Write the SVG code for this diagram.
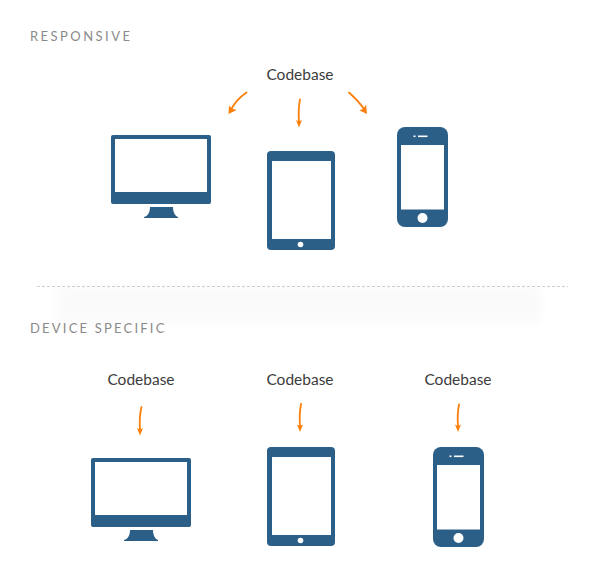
<svg xmlns="http://www.w3.org/2000/svg" width="600" height="580" viewBox="0 0 600 580">
<style>
.dev{fill:#2c5f88}
.scr{fill:#fff}
.head{font:13px Lato,"Liberation Sans",sans-serif;letter-spacing:2.45px;fill:#8a8a8a}
.tight{letter-spacing:2.2px}
.code{font:15.5px Lato,"Liberation Sans",sans-serif;fill:#3c3c3c;text-anchor:middle}
.arr{fill:none;stroke:#fb7f0a;stroke-width:1.8;stroke-linecap:round}
.tip{fill:#fb7f0a}
</style>
<defs>
<filter id="soft" x="-10%" y="-50%" width="120%" height="200%"><feGaussianBlur stdDeviation="6"/></filter>
<g id="monitor">
<rect class="dev" x="0" y="0" width="100" height="69" rx="2"/>
<rect class="scr" x="4" y="4" width="92" height="53"/>
<path class="dev" d="M39 72H62C62 77 64 81 67 82L67 83H33L33 82C37 81 39 77 39 72Z"/>
</g>
<g id="tablet">
<rect class="dev" x="0" y="0" width="68" height="99" rx="4"/>
<rect class="scr" x="5" y="10" width="59" height="78"/>
<circle class="scr" cx="33.500" cy="93.500" r="2.800"/>
</g>
<g id="phone">
<rect class="dev" x="0" y="0" width="51" height="100" rx="8"/>
<rect class="scr" x="4" y="18" width="43" height="64.500"/>
<circle class="scr" cx="25.500" cy="91" r="5"/>
<rect class="scr" x="21" y="8.500" width="9.500" height="1.600"/>
<rect class="scr" x="16.500" y="8.500" width="2" height="1.600"/>
</g>
</defs>
<rect width="600" height="580" fill="#fff"/>
<rect x="58" y="287" width="482" height="35" fill="#f9f9f9" filter="url(#soft)"/>
<line x1="37" y1="286.500" x2="568" y2="286.500" stroke="#cfcfcf" stroke-dasharray="3 2"/>
<text class="head" x="30" y="41">RESPONSIVE</text>
<text class="head tight" x="30" y="333">DEVICE SPECIFIC</text>
<g id="connectors">
<path class="arr" d="M246.500 92.500C240 97 234 103 231 110"/><path class="tip" d="M228.500 114L229 105.500L232 108.500L236.500 110Z"/>
<path class="arr" d="M300 99.500C298.500 107 298.500 115 299 122"/><path class="tip" d="M299 127.500L296 120L299 121.500L302 120Z"/>
<path class="arr" d="M349 92.500C355 98 360 103 364 109"/><path class="tip" d="M367 114L359.500 110.500L363.500 108.500L366 104.500Z"/>
<path class="arr" d="M141.500 407C139.500 415 139.500 423 140 430"/><path class="tip" d="M140 435.500L137 428L140 429.500L143 428Z"/>
<path class="arr" d="M301 404C299.500 412 299.500 420 300 426.500"/><path class="tip" d="M300 432L297 424.500L300 426L303 424.500Z"/>
<path class="arr" d="M459 404.500C457.500 412 457.500 420 458 426.500"/><path class="tip" d="M458 432L455 424.500L458 426L461 424.500Z"/>
</g>
<g id="top-codebase"><text class="code" x="300" y="80">Codebase</text></g>
<g id="top-monitor"><use href="#monitor" x="111" y="135"/></g>
<g id="top-tablet"><use href="#tablet" x="267" y="151"/></g>
<g id="top-phone"><use href="#phone" x="397" y="127"/></g>
<g id="codebase-desktop"><text class="code" x="141" y="385">Codebase</text></g>
<g id="codebase-tablet"><text class="code" x="300" y="385">Codebase</text></g>
<g id="codebase-phone"><text class="code" x="458" y="385">Codebase</text></g>
<g id="bottom-monitor"><use href="#monitor" x="91" y="458"/></g>
<g id="bottom-tablet"><use href="#tablet" x="267" y="447"/></g>
<g id="bottom-phone"><use href="#phone" x="433" y="447"/></g>
</svg>
